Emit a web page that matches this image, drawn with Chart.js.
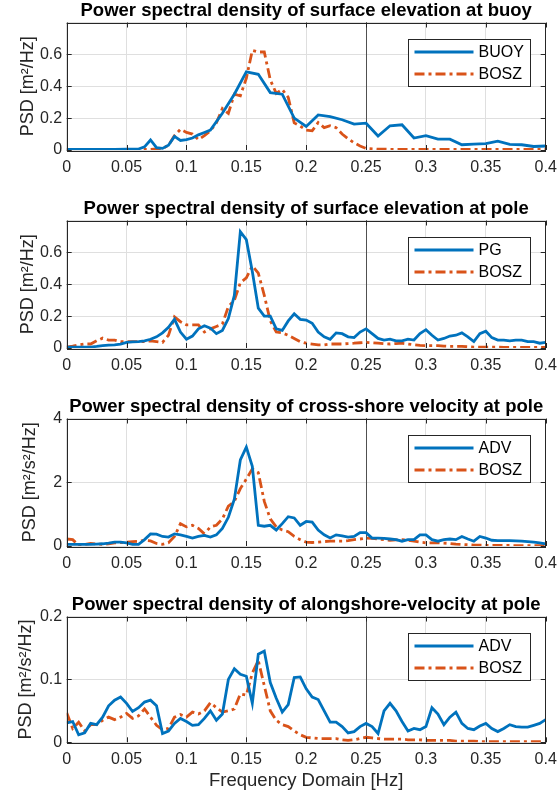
<!DOCTYPE html>
<html lang="en">
<head>
<meta charset="UTF-8">
<title>PSD comparison</title>
<script src="https://cdn.jsdelivr.net/npm/chart.js@4.4.0/dist/chart.umd.min.js"></script>
<style>
  body { margin: 0; background: #fff; }
  canvas { position: absolute; left: 0; }
</style>
</head>
<body>
<canvas id="c1" width="558" height="198" style="top:0"></canvas>
<canvas id="c2" width="558" height="198" style="top:198px"></canvas>
<canvas id="c3" width="558" height="198" style="top:396px"></canvas>
<canvas id="c4" width="558" height="200" style="top:594px"></canvas>
<script>
// ---- data ----
const freqGrid = [0,0.005,0.01,0.015,0.02,0.025,0.03,0.035,0.04,0.045,0.05,0.055,0.06,0.065,0.07,0.075,0.08,0.085,0.09,0.095,
  0.1,0.105,0.11,0.115,0.12,0.125,0.13,0.135,0.14,0.145,0.15,0.155,0.16,0.165,0.17,0.175,0.18,0.185,0.19,0.195,
  0.2,0.205,0.21,0.215,0.22,0.225,0.23,0.235,0.24,0.245,0.25,0.255,0.26,0.265,0.27,0.275,0.28,0.285,0.29,0.295,
  0.3,0.305,0.31,0.315,0.32,0.325,0.33,0.335,0.34,0.345,0.35,0.355,0.36,0.365,0.37,0.375,0.38,0.385,0.39,0.395,0.4];

// panel 1: buoy
const buoyFreq = [0,0.01,0.02,0.03,0.04,0.05,0.06,0.065,0.07,0.075,0.08,0.085,0.09,0.095,0.1,0.105,0.11,0.115,0.12,
  0.13,0.14,0.15,0.16,0.17,0.18,0.19,0.2,0.21,0.22,0.23,0.24,0.25,0.26,0.27,0.28,0.29,0.3,0.31,0.32,0.33,0.34,0.35,0.36,0.37,0.38,0.39,0.4];
const buoyPsd = [0.003,0.003,0.003,0.003,0.004,0.005,0.006,0.02,0.063,0.015,0.01,0.03,0.085,0.06,0.065,0.075,0.095,0.11,0.125,
  0.23,0.35,0.49,0.475,0.36,0.35,0.2,0.148,0.22,0.21,0.19,0.162,0.168,0.088,0.152,0.158,0.075,0.09,0.068,0.068,0.033,0.037,0.04,0.055,0.035,0.033,0.022,0.025];
const boszBuoyFreq = [0,0.02,0.04,0.06,0.07,0.08,
  0.085,0.09,0.095,0.1,0.105,0.11,0.115,0.12,0.125,0.13,0.135,0.14,0.145,0.15,0.155,0.16,0.165,0.17,0.175,0.18,0.185,
  0.19,0.195,0.2,0.205,0.21,0.215,0.22,0.225,0.23,0.235,0.24,0.245,0.25,
  0.26,0.28,0.3,0.32,0.34,0.36,0.38,0.4];
const boszBuoyPsd = [0.003,0.003,0.003,0.003,0.004,0.01,
  0.03,0.09,0.13,0.11,0.1,0.065,0.09,0.12,0.17,0.26,0.23,0.35,0.34,0.45,0.625,0.615,0.615,0.44,0.355,0.38,0.33,
  0.17,0.15,0.125,0.12,0.172,0.14,0.152,0.14,0.1,0.07,0.045,0.025,0.01,
  0.005,0.004,0.004,0.003,0.003,0.003,0.003,0.003];

// panel 2: pole surface elevation
const pgPsd = [0.005,0.005,0.005,0.005,0.006,0.01,0.015,0.018,0.02,0.025,0.035,0.038,0.04,0.045,0.055,0.07,0.095,0.13,0.18,0.1,
  0.055,0.075,0.12,0.14,0.125,0.09,0.11,0.185,0.33,0.73,0.68,0.48,0.25,0.2,0.2,0.12,0.11,0.17,0.215,0.18,
  0.175,0.155,0.1,0.07,0.055,0.095,0.09,0.07,0.065,0.1,0.12,0.09,0.06,0.05,0.055,0.045,0.045,0.055,0.05,0.09,
  0.115,0.08,0.05,0.06,0.075,0.08,0.095,0.07,0.04,0.09,0.105,0.065,0.05,0.05,0.045,0.05,0.05,0.04,0.04,0.03,0.035];
const boszPolePsd = [0.005,0.012,0.02,0.025,0.025,0.045,0.062,0.05,0.05,0.04,0.04,0.04,0.04,0.04,0.045,0.04,0.035,0.08,0.195,0.165,
  0.145,0.145,0.145,0.1,0.12,0.135,0.15,0.26,0.3,0.41,0.44,0.515,0.47,0.33,0.17,0.1,0.095,0.08,0.06,0.04,
  0.03,0.025,0.02,0.02,0.025,0.025,0.025,0.028,0.03,0.033,0.035,0.033,0.03,0.027,0.025,0.028,0.03,0.025,0.02,0.016,
  0.015,0.015,0.015,0.012,0.01,0.01,0.01,0.008,0.006,0.005,0.005,0.005,0.005,0.004,0.004,0.004,0.003,0.003,0.003,0.003,0.003];

// panel 3: cross-shore velocity
const advCrossPsd = [0.05,0.05,0.05,0.05,0.05,0.06,0.07,0.09,0.12,0.12,0.1,0.05,0.05,0.2,0.38,0.37,0.3,0.28,0.38,0.35,
  0.3,0.25,0.3,0.33,0.28,0.35,0.55,0.9,1.47,2.7,3.1,2.5,0.65,0.62,0.65,0.5,0.7,0.92,0.88,0.65,
  0.77,0.75,0.5,0.35,0.25,0.35,0.32,0.28,0.3,0.42,0.42,0.25,0.25,0.24,0.22,0.2,0.15,0.2,0.2,0.35,
  0.35,0.2,0.15,0.2,0.22,0.2,0.3,0.22,0.15,0.3,0.25,0.18,0.17,0.17,0.17,0.16,0.15,0.14,0.12,0.1,0.07];
const boszCrossPsd = [0.22,0.2,0.02,0.05,0.08,0.06,0.05,0.07,0.1,0.11,0.12,0.14,0.15,0.18,0.16,0.08,0.05,0.1,0.3,0.7,
  0.6,0.65,0.55,0.38,0.6,0.65,0.85,1.25,1.4,1.8,2.1,2.42,2.3,1.4,0.85,0.6,0.5,0.45,0.3,0.2,
  0.12,0.11,0.12,0.14,0.15,0.15,0.15,0.17,0.2,0.22,0.25,0.24,0.22,0.2,0.18,0.19,0.2,0.18,0.15,0.12,
  0.1,0.1,0.1,0.09,0.08,0.06,0.05,0.04,0.03,0.025,0.02,0.02,0.02,0.015,0.015,0.012,0.01,0.01,0.01,0.01,0.01];

// panel 4: alongshore velocity
const advAlongPsd = [0.031,0.033,0.012,0.015,0.03,0.028,0.04,0.058,0.067,0.072,0.062,0.049,0.055,0.064,0.067,0.058,0.014,0.018,0.03,0.038,
  0.033,0.027,0.028,0.038,0.05,0.035,0.045,0.1,0.117,0.108,0.105,0.062,0.14,0.145,0.095,0.07,0.048,0.06,0.103,0.104,
  0.085,0.072,0.068,0.05,0.032,0.032,0.025,0.015,0.017,0.025,0.03,0.025,0.014,0.05,0.062,0.05,0.033,0.018,0.022,0.02,
  0.025,0.055,0.045,0.028,0.04,0.048,0.03,0.022,0.02,0.026,0.03,0.022,0.017,0.022,0.028,0.025,0.024,0.024,0.027,0.03,0.036];
const boszAlongPsd = [0.047,0.022,0.032,0.018,0.028,0.028,0.035,0.04,0.036,0.04,0.046,0.038,0.042,0.053,0.04,0.027,0.02,0.022,0.04,0.044,
  0.04,0.048,0.045,0.05,0.063,0.055,0.048,0.05,0.053,0.077,0.075,0.11,0.13,0.09,0.05,0.035,0.028,0.025,0.018,0.012,
  0.008,0.007,0.006,0.006,0.006,0.006,0.004,0.003,0.004,0.006,0.008,0.007,0.006,0.005,0.005,0.005,0.005,0.004,0.004,0.004,
  0.003,0.003,0.003,0.003,0.003,0.002,0.002,0.002,0.002,0.001,0.001,0.001,0.001,0.001,0.001,0.001,0.001,0.001,0.001,0.001,0.001];

const panelTitles = [
  'Power spectral density of surface elevation at buoy',
  'Power spectral density of surface elevation at pole',
  'Power spectral density of cross-shore velocity at pole',
  'Power spectral density of alongshore-velocity at pole'
];
const yLabels = ['PSD [m²/Hz]', 'PSD [m²/Hz]', 'PSD [m²/s²/Hz]', 'PSD [m²/s²/Hz]'];
const seriesNames = [['BUOY', 'BOSZ'], ['PG', 'BOSZ'], ['ADV', 'BOSZ'], ['ADV', 'BOSZ']];
const yMax = [0.8, 0.8, 4, 0.2];
const yStep = [0.2, 0.2, 2, 0.1];
const xLine = 0.25;

// ---- styling ----
const FONT = "'Liberation Sans', Arial, Helvetica, sans-serif";
const BLUE = '#0072BD';
const ORANGE = '#D95319';
const AXIS = '#262626';
const GRID = '#dfdfdf';
const yTitlePad = [17.2, 17.2, 19.2, 15.6];

function toPoints(xs, ys) {
  return xs.map((x, i) => ({ x: x, y: ys[i] }));
}

// box, inner ticks, vertical marker line and a MATLAB-like legend
const matlabLook = {
  id: 'matlabLook',
  beforeDatasetsDraw(chart) {
    const { ctx, chartArea: a, scales: { x } } = chart;
    const px = Math.round(x.getPixelForValue(xLine)) + 0.5;
    ctx.save();
    ctx.strokeStyle = '#505050';
    ctx.lineWidth = 1;
    ctx.beginPath();
    ctx.moveTo(px, a.top);
    ctx.lineTo(px, a.bottom);
    ctx.stroke();
    ctx.restore();
  },
  afterDatasetsDraw(chart) {
    const { ctx, chartArea: a, scales: { x, y } } = chart;
    ctx.save();
    ctx.strokeStyle = AXIS;
    ctx.lineWidth = 1;
    ctx.strokeRect(Math.round(a.left) + 0.5, Math.round(a.top) + 0.5,
      Math.round(a.right - a.left) - 1, Math.round(a.bottom - a.top));
    ctx.beginPath();
    x.ticks.forEach(t => {
      const px = Math.round(x.getPixelForValue(t.value)) + 0.5;
      ctx.moveTo(px, a.bottom); ctx.lineTo(px, a.bottom - 5);
      ctx.moveTo(px, a.top); ctx.lineTo(px, a.top + 5);
    });
    y.ticks.forEach(t => {
      const py = Math.round(y.getPixelForValue(t.value)) + 0.5;
      ctx.moveTo(a.left, py); ctx.lineTo(a.left + 5, py);
      ctx.moveTo(a.right, py); ctx.lineTo(a.right - 5, py);
    });
    ctx.stroke();
    ctx.restore();
  },
  afterDraw(chart) {
    const { ctx, chartArea: a } = chart;
    const w = 122, h = 47;
    const left = Math.round(a.right - 16 - w) + 0.5;
    const top = Math.round(a.top + 16) + 0.5;
    ctx.save();
    ctx.fillStyle = '#fff';
    ctx.fillRect(left, top, w, h);
    ctx.strokeStyle = AXIS;
    ctx.lineWidth = 1;
    ctx.strokeRect(left, top, w, h);
    ctx.font = '16px ' + FONT;
    ctx.textBaseline = 'middle';
    ctx.fillStyle = '#000';
    chart.data.datasets.forEach((ds, i) => {
      const yy = top + 12.5 + i * 22;
      ctx.strokeStyle = ds.borderColor;
      ctx.lineWidth = ds.borderWidth;
      ctx.setLineDash(ds.borderDash || []);
      ctx.beginPath();
      ctx.moveTo(left + 6, yy);
      ctx.lineTo(left + 65, yy);
      ctx.stroke();
      ctx.fillText(ds.label, left + 70, yy + 1);
    });
    ctx.restore();
  }
};

function makePanel(canvasId, idx, series) {
  const isLast = idx === 3;
  new Chart(document.getElementById(canvasId), {
    type: 'line',
    data: {
      datasets: [
        { label: seriesNames[idx][0], data: series[0], borderColor: BLUE, borderWidth: 2.8,
          pointRadius: 0, tension: 0, fill: false },
        { label: seriesNames[idx][1], data: series[1], borderColor: ORANGE, borderWidth: 2.8,
          borderDash: [10, 4, 3, 4], pointRadius: 0, tension: 0, fill: false }
      ]
    },
    options: {
      responsive: false,
      animation: false,
      devicePixelRatio: 1,
      layout: { padding: { left: 0, right: 12.3, top: 0, bottom: 0 } },
      plugins: {
        legend: { display: false },
        tooltip: { enabled: false },
        title: {
          display: true,
          text: panelTitles[idx],
          fullSize: false,
          color: '#000',
          font: { family: FONT, size: 18.5, weight: 'bold', lineHeight: 1 },
          padding: { top: 2, bottom: 2 }
        }
      },
      scales: {
        x: {
          type: 'linear',
          min: 0,
          max: 0.4,
          ticks: {
            stepSize: 0.05,
            autoSkip: false,
            maxRotation: 0,
            padding: 8,
            color: AXIS,
            font: { family: FONT, size: 16 },
            callback: v => String(+v.toFixed(2))
          },
          grid: { color: GRID, drawTicks: false },
          border: { display: false },
          title: {
            display: isLast,
            text: 'Frequency Domain [Hz]',
            color: AXIS,
            font: { family: FONT, size: 18.5 },
            padding: { top: 0, bottom: 1.5 }
          },
          afterFit(s) {
            s.height = isLast ? 51.7 : 48;
            s.paddingLeft = 0;
            s.paddingRight = 0;
          }
        },
        y: {
          min: 0,
          max: yMax[idx],
          ticks: {
            stepSize: yStep[idx],
            padding: 4.5,
            color: AXIS,
            font: { family: FONT, size: 16 },
            callback: v => (idx < 2 && v > 0.7) ? '' : String(+v.toFixed(2))
          },
          grid: { color: GRID, drawTicks: false },
          border: { display: false },
          title: {
            display: true,
            text: yLabels[idx],
            color: AXIS,
            font: { family: FONT, size: 18 },
            padding: { top: yTitlePad[idx], bottom: 0 }
          },
          afterFit(s) {
            s.width = 66.7;
            s.paddingTop = 0;
            s.paddingBottom = 0;
          }
        }
      }
    },
    plugins: [matlabLook]
  });
}

makePanel('c1', 0, [toPoints(buoyFreq, buoyPsd), toPoints(boszBuoyFreq, boszBuoyPsd)]);
makePanel('c2', 1, [toPoints(freqGrid, pgPsd), toPoints(freqGrid, boszPolePsd)]);
makePanel('c3', 2, [toPoints(freqGrid, advCrossPsd), toPoints(freqGrid, boszCrossPsd)]);
makePanel('c4', 3, [toPoints(freqGrid, advAlongPsd), toPoints(freqGrid, boszAlongPsd)]);
</script>
</body>
</html>
